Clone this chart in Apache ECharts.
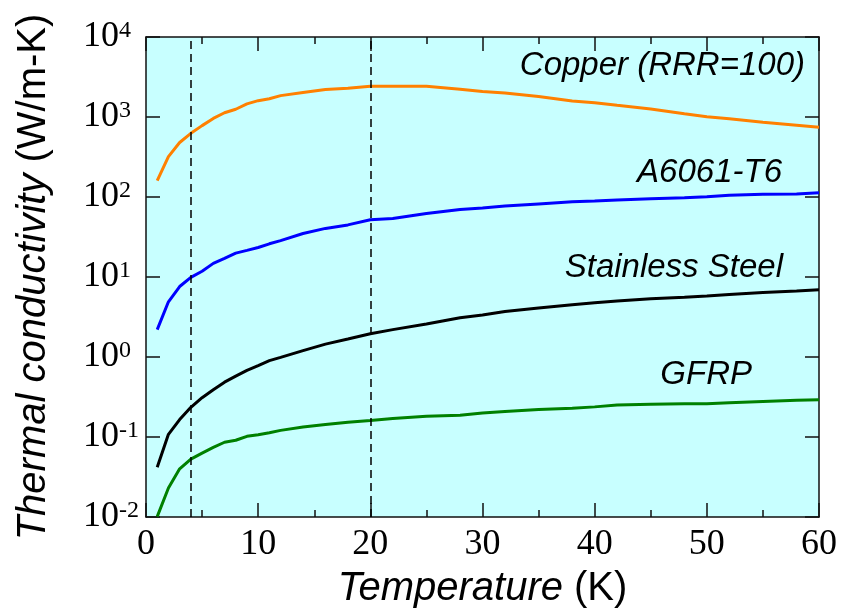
<!DOCTYPE html>
<html>
<head>
<meta charset="utf-8">
<script src="https://cdn.jsdelivr.net/npm/echarts@6/dist/echarts.min.js"></script>
<style>
html,body{margin:0;padding:0;background:#fff;}
#c{width:843px;height:614px;}
</style>
</head>
<body>
<div id="c"></div>
<script>
// Temperature (K)
const temps = [1,2,3,4,5,6,7,8,9,10,11,12,14,16,18,20,22,25,28,30,32,35,38,40,42,45,48,50,52,55,58,60];
// Thermal conductivity (W/m-K)
const copper = [160,320,480,625,780,960,1130,1250,1460,1600,1690,1850,2020,2200,2290,2420,2420,2420,2230,2080,2000,1800,1580,1510,1400,1260,1100,1010,950,860,790,746];
const a6061 = [2.2,4.9,7.6,9.9,11.8,14.8,17.1,19.9,21.5,23.4,26,28.5,35,40.5,44.8,52,54,62,70,73,77,82,87,89,92,95,98,101,105,108,109,113];
const stainless = [0.042,0.108,0.165,0.235,0.31,0.39,0.485,0.576,0.68,0.78,0.9,0.99,1.2,1.45,1.68,1.95,2.2,2.59,3.1,3.35,3.7,4.1,4.5,4.75,5.0,5.35,5.6,5.8,6.05,6.4,6.7,6.92];
const gfrp = [0.0101,0.023,0.040,0.053,0.063,0.074,0.086,0.091,0.102,0.107,0.113,0.121,0.133,0.143,0.153,0.161,0.170,0.182,0.187,0.200,0.208,0.220,0.228,0.238,0.252,0.256,0.260,0.261,0.268,0.278,0.288,0.292];
const refTemps = [4, 20];
const seriesNames = ['Copper (RRR=100)','A6061-T6','Stainless Steel','GFRP'];
const xTicks = [0,10,20,30,40,50,60];

const pairs = v => temps.map((t,i)=>[t, v[i]]);
const serif = 'Liberation Serif, Times New Roman, serif';
const sans = 'Liberation Sans, Arial, sans-serif';

const chart = echarts.init(document.getElementById('c'), null, {renderer:'canvas'});
const axisLineStyle = {color:'#111', width:1.5};
const supFmt = v => {
  const e = Math.round(Math.log10(v));
  return '{b|10}{s|' + e + '}';
};
const richY = {
  b:{fontFamily:serif, fontSize:36, color:'#000', lineHeight:36},
  s:{fontFamily:serif, fontSize:24, color:'#000', verticalAlign:'top', lineHeight:36}
};
const colors = ['#ff8000','#0000ff','#000000','#008000'];
const datasets = [copper, a6061, stainless, gfrp];
const titleRich = {
  i:{fontFamily:sans, fontSize:40, fontStyle:'italic', color:'#000'},
  sp:{fontFamily:sans, fontSize:40, color:'#000', width:11},
  n:{fontFamily:sans, fontSize:40, color:'#000'}
};

chart.setOption({
  animation:false,
  grid:{left:146, right:24, top:37, bottom:95, show:true, backgroundColor:'#c8ffff', borderWidth:0},
  xAxis:[{
    type:'value', min:0, max:60, interval:10, position:'bottom',
    axisLine:{show:true, onZero:false, lineStyle:axisLineStyle},
    axisTick:{show:true, inside:true, length:14, lineStyle:{color:'#111', width:1.5}},
    minorTick:{show:true, splitNumber:2, length:7, lineStyle:{color:'#111', width:1.5}},
    splitLine:{show:false},
    axisLabel:{fontFamily:serif, fontSize:36, color:'#000', margin:10,
      formatter: v => xTicks.includes(v) ? String(v) : ''},
    name:'{i|Temperature}{sp|}{n|(K)}', nameLocation:'middle', nameGap:52,
    nameTextStyle:{rich:titleRich}
  },{
    type:'value', min:0, max:60, interval:10, position:'top',
    axisLine:{show:true, onZero:false, lineStyle:axisLineStyle},
    axisTick:{show:true, inside:true, length:14, lineStyle:{color:'#111', width:1.5}},
    minorTick:{show:true, splitNumber:2, length:7, lineStyle:{color:'#111', width:1.5}},
    splitLine:{show:false}, axisLabel:{show:false}
  }],
  yAxis:[{
    type:'log', logBase:10, min:0.01, max:10000, splitNumber:6, position:'left',
    axisLine:{show:true, onZero:false, lineStyle:axisLineStyle},
    axisTick:{show:true, inside:true, length:14, lineStyle:{color:'#111', width:1.5}},
    splitLine:{show:false},
    axisLabel:{formatter:supFmt, rich:richY, align:'left', margin:63},
    name:'{i|Thermal conductivity}{sp|}{n|(W/m-K)}', nameLocation:'middle', nameGap:92, nameRotate:90,
    nameTextStyle:{rich:titleRich}
  },{
    type:'log', logBase:10, min:0.01, max:10000, splitNumber:6, position:'right',
    axisLine:{show:true, onZero:false, lineStyle:axisLineStyle},
    axisTick:{show:true, inside:true, length:14, lineStyle:{color:'#111', width:1.5}},
    splitLine:{show:false}, axisLabel:{show:false}
  }],
  series: datasets.map((d,i)=>({
    name: seriesNames[i], type:'line', data:pairs(d), showSymbol:false, symbol:'none',
    lineStyle:{color:colors[i], width:3}, z:3,
    markLine: i===0 ? {
      silent:true, symbol:'none', label:{show:false},
      lineStyle:{type:[8,5], color:'#000', width:1.5},
      data: refTemps.map(t=>({xAxis:t}))
    } : undefined
  })),
  graphic:[
    {type:'text', right:843-805, top:68-19, style:{text:seriesNames[0], font:'italic 33px '+sans, fill:'#000'}},
    {type:'text', right:843-782, top:175-19, style:{text:seriesNames[1], font:'italic 33px '+sans, fill:'#000'}},
    {type:'text', right:843-783, top:270-19, style:{text:seriesNames[2], font:'italic 33px '+sans, fill:'#000'}},
    {type:'text', right:843-752, top:377-19, style:{text:seriesNames[3], font:'italic 33px '+sans, fill:'#000'}}
  ]
});
</script>
</body>
</html>
